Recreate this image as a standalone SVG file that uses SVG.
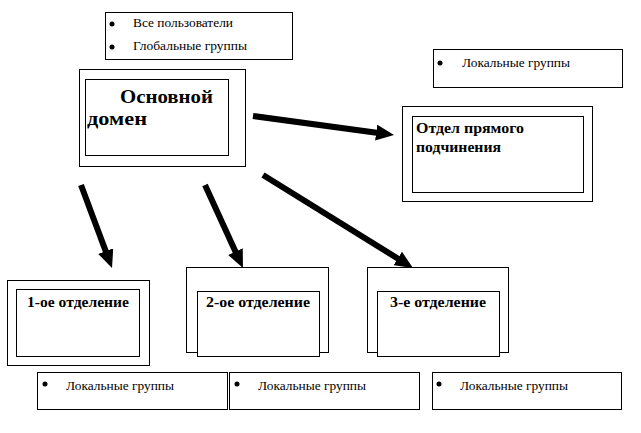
<svg xmlns="http://www.w3.org/2000/svg" width="641" height="433" viewBox="0 0 641 433">
<style>
rect{fill:#fff;stroke:#000;stroke-width:1}
text{font-family:'Liberation Serif','DejaVu Serif',serif;fill:#000}
.t{font-size:13px}
.b{font-weight:bold;font-size:14px}
.h{font-weight:bold;font-size:19px}
.dot{fill:#000}
.arr{stroke:#000;stroke-width:6;fill:none;marker-end:url(#ah)}
</style>
<defs>
<marker id="ah" viewBox="0 0 18 16" markerWidth="18" markerHeight="16" refX="8" refY="8" orient="auto" markerUnits="userSpaceOnUse">
<path d="M0,0 L18,8 L0,16 z" fill="#000"/>
</marker>
</defs>
<rect width="641" height="433" style="stroke:none"/>
<g id="users-list">
<rect x="105.5" y="12.5" width="187" height="47"/>
<circle class="dot" cx="112" cy="24" r="2.5"/>
<text class="t" x="133" y="27" textLength="100" lengthAdjust="spacingAndGlyphs">Все пользователи</text>
<circle class="dot" cx="112" cy="47" r="2.5"/>
<text class="t" x="133" y="50" textLength="114" lengthAdjust="spacingAndGlyphs">Глобальные группы</text>
</g>
<g id="main-domain">
<rect x="79.5" y="69.5" width="166" height="97"/>
<rect x="85.5" y="79.5" width="143" height="76"/>
<text class="h" x="120" y="103" textLength="93" lengthAdjust="spacingAndGlyphs">Основной</text>
<text class="h" x="87" y="125" textLength="60" lengthAdjust="spacingAndGlyphs">домен</text>
</g>
<g id="local-top">
<rect x="433.5" y="49.5" width="189" height="38"/>
<circle class="dot" cx="440" cy="63" r="2.5"/>
<text class="t" x="462" y="67" textLength="108" lengthAdjust="spacingAndGlyphs">Локальные группы</text>
</g>
<g id="direct-dept">
<rect x="402.5" y="106.5" width="190" height="95"/>
<rect x="412.5" y="116.5" width="171" height="76"/>
<text class="b" x="416" y="133" textLength="108" lengthAdjust="spacingAndGlyphs">Отдел прямого</text>
<text class="b" x="416" y="152" textLength="85" lengthAdjust="spacingAndGlyphs">подчинения</text>
</g>
<g id="dept1">
<rect x="7.5" y="280.5" width="142" height="85"/>
<rect x="16.5" y="289.5" width="123" height="67"/>
<text class="b" x="27" y="307" textLength="102" lengthAdjust="spacingAndGlyphs">1-ое отделение</text>
</g>
<g id="dept2">
<rect x="186.5" y="267.5" width="142" height="85"/>
<rect x="197.5" y="291.5" width="122" height="65"/>
<text class="b" x="206" y="307" textLength="104" lengthAdjust="spacingAndGlyphs">2-ое отделение</text>
</g>
<g id="dept3">
<rect x="367.5" y="267.5" width="141" height="85"/>
<rect x="377.5" y="291.5" width="122" height="65"/>
<text class="b" x="390" y="307" textLength="96" lengthAdjust="spacingAndGlyphs">3-е отделение</text>
</g>
<g id="local1">
<rect x="37.5" y="372.5" width="190" height="37"/>
<circle class="dot" cx="45" cy="384" r="2.5"/>
<text class="t" x="66" y="390" textLength="108" lengthAdjust="spacingAndGlyphs">Локальные группы</text>
</g>
<g id="local2">
<rect x="229.5" y="372.5" width="190" height="37"/>
<circle class="dot" cx="237" cy="384" r="2.5"/>
<text class="t" x="258" y="390" textLength="108" lengthAdjust="spacingAndGlyphs">Локальные группы</text>
</g>
<g id="local3">
<rect x="432.5" y="372.5" width="189" height="37"/>
<circle class="dot" cx="439" cy="384" r="2.5"/>
<text class="t" x="460" y="390" textLength="108" lengthAdjust="spacingAndGlyphs">Локальные группы</text>
</g>
<g id="connectors">
<line class="arr" x1="253" y1="116" x2="384.1" y2="133.7"/>
<line class="arr" x1="81" y1="185" x2="108.5" y2="258.6"/>
<line class="arr" x1="205" y1="185" x2="238.8" y2="258.9"/>
<line class="arr" x1="263" y1="175" x2="404.5" y2="262.7"/>
</g>
</svg>
